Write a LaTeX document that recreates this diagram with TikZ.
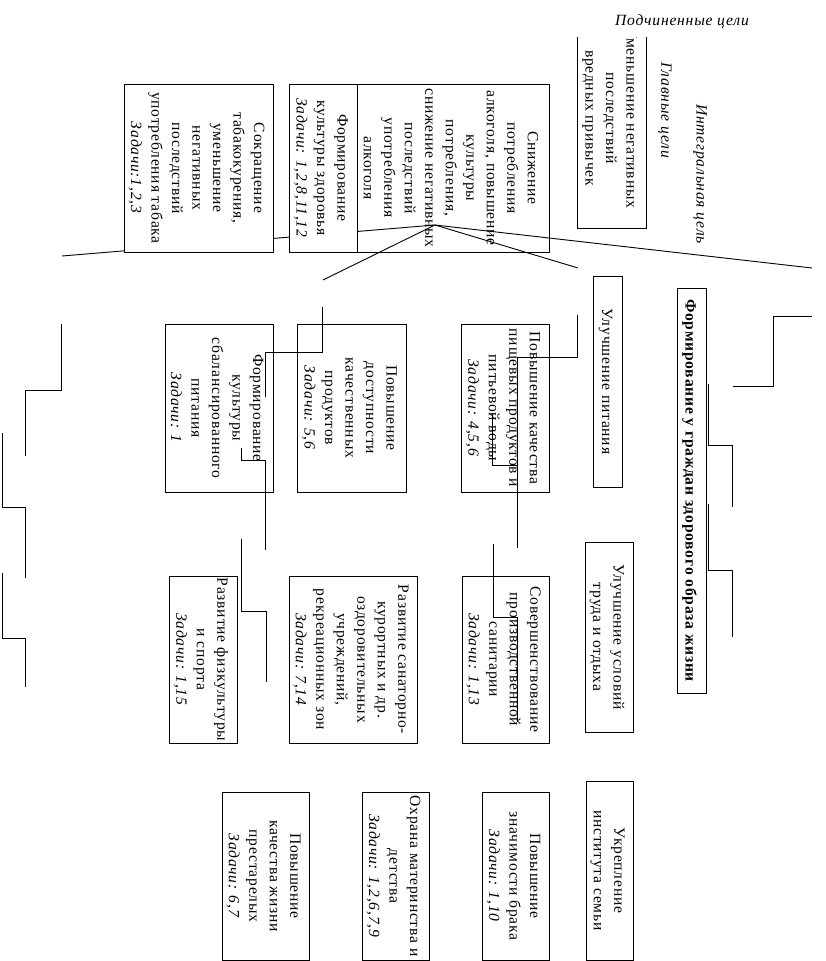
\documentclass[tikz,border=0pt]{standalone}
\usepackage{fontspec}
\setmainfont{Liberation Serif}[LetterSpace=5]
\usetikzlibrary{positioning}

\newcommand{\zd}[1]{\textit{Задачи:#1}}

\tikzset{
  box/.style={draw, line width=0.9pt, inner sep=0pt},
  txt/.style={xshift=-2pt, rotate=-90, align=center, inner sep=0pt,
    font=\fontsize{15.6}{20.5}\selectfont},
  link/.style={line width=0.9pt},
  note/.style={font=\fontsize{15.6}{18}\selectfont\itshape}
}

\begin{document}
\begin{tikzpicture}[x=1pt, y=-1pt]
  \useasboundingbox (0,0) rectangle (826,961);

  % lines from the main goals
  \coordinate (hub) at (435,225);
  \coordinate (tail) at (62,256);
  \coordinate (endr) at (812,268);
  \coordinate (endm) at (578,268);
  \coordinate (endl) at (323,280);
  \draw[link] (tail) -- (hub);
  \draw[link] (hub) -- (endr);
  \draw[link] (hub) -- (endm);
  \draw[link] (hub) -- (endl);

  % top row
  \node[box, fill=white, minimum width=149pt, minimum height=168pt] (tabak) at (198.5,168) {};
  \node[txt] (tabak-t) at (tabak) {Сокращение\\табакокурения,\\уменьшение\\негативных\\последствий\\употребления табака\\\zd{1,2,3}};
  \node[box, fill=white, minimum width=68pt, minimum height=168pt] (kultzd) at (323,168) {};
  \node[txt] (kultzd-t) at (kultzd) {Формирование\\культуры здоровья\\\zd{ 1,2,8,11,12}};
  \node[box, minimum width=192pt, minimum height=168pt] (alko) at (453,168) {};
  \node[txt] (alko-t) at (alko) {Снижение\\потребления\\алкоголя, повышение\\культуры\\потребления,\\снижение негативных\\последствий\\употребления\\алкоголя};
  \begin{scope}
    \clip (560,37) rectangle (660,240);
    \node[box, minimum width=69pt, minimum height=198pt] (vred) at (611.5,129) {};
    \node[txt] (vred-t) at (611.5,118) {Уменьшение негативных\\последствий\\вредных привычек};
  \end{scope}

  % labels
  \node[note] (podch) at (682,22) {Подчиненные цели};
  \node[note, rotate=-90] (glav) at (665,110) {Главные цели};
  \node[note, rotate=-90, fill=white, inner xsep=8pt, inner ysep=7pt] (integ) at (700,174) {Интегральная цель};

  % middle row
  \node[box, minimum width=29pt, minimum height=405pt] (zoj) at (691.5,490.5) {};
  \node[txt] (zoj-t) at (zoj) {\bfseries Формирование у граждан здорового образа жизни};
  \node[box, minimum width=29pt, minimum height=211pt] (pitan) at (607.5,381.5) {};
  \node[txt] (pitan-t) at (pitan) {Улучшение питания};
  \node[box, minimum width=88pt, minimum height=168pt] (kachpit) at (505,408) {};
  \node[txt] (kachpit-t) at (kachpit) {Повышение качества\\пищевых продуктов и\\питьевой воды\\\zd{ 4,5,6}};
  \node[box, minimum width=109pt, minimum height=168pt] (dostup) at (351.5,408) {};
  \node[txt] (dostup-t) at (dostup) {Повышение\\доступности\\качественных\\продуктов\\\zd{ 5,6}};
  \node[box, minimum width=108pt, minimum height=168pt] (sbal) at (219,408) {};
  \node[txt] (sbal-t) at (sbal) {Формирование\\культуры\\сбалансированного\\питания\\\zd{ 1}};

  % third row
  \node[box, minimum width=48pt, minimum height=190pt] (trud) at (609,637) {};
  \node[txt] (trud-t) at (trud) {Улучшение условий\\труда и отдыха};
  \node[box, minimum width=87pt, minimum height=167pt] (sanit) at (505.5,659.5) {};
  \node[txt] (sanit-t) at (sanit) {Совершенствование\\производственной\\санитарии\\\zd{ 1,13}};
  \node[box, minimum width=128pt, minimum height=167pt] (sanat) at (353,659.5) {};
  \node[txt] (sanat-t) at (sanat) {Развитие санаторно-\\курортных и др.\\оздоровительных\\учреждений,\\рекреационных зон\\\zd{ 7,14}};
  \node[box, minimum width=68pt, minimum height=167pt] (fizk) at (203,659.5) {};
  \node[txt] (fizk-t) at (fizk) {Развитие физкультуры\\и спорта\\\zd{ 1,15}};

  % bottom row
  \node[box, minimum width=47pt, minimum height=179pt] (semya) at (609.5,870.5) {};
  \node[txt] (semya-t) at (semya) {Укрепление\\института семьи};
  \node[box, minimum width=67pt, minimum height=168pt] (brak) at (515.5,876) {};
  \node[txt] (brak-t) at (brak) {Повышение\\значимости брака\\\zd{ 1,10}};
  \node[box, minimum width=67pt, minimum height=168pt] (mater) at (395.5,876) {};
  \node[txt] (mater-t) at (mater) {Охрана материнства и\\детства\\\zd{ 1,2,6,7,9}};
  \node[box, minimum width=87pt, minimum height=168pt] (prest) at (265.5,876) {};
  \node[txt] (prest-t) at (prest) {Повышение\\качества жизни\\престарелых\\\zd{ 6,7}};

  % elbow connectors
  \coordinate (pit-a) at (577,315);   \coordinate (pit-b) at (517,548);
  \coordinate (voda-a) at (492,413);  \coordinate (voda-b) at (517,465);
  \coordinate (san-a) at (493,544);   \coordinate (san-b) at (517,722);
  \coordinate (dos-a) at (322,307);   \coordinate (dos-b) at (265,397);
  \coordinate (kul-a) at (241,448);   \coordinate (kul-b) at (265,550);
  \coordinate (fiz-a) at (241,539);   \coordinate (fiz-b) at (266,682);
  \coordinate (zoj-a) at (812,316);   \coordinate (zoj-b) at (733,386);
  \coordinate (tr-a) at (708,384);    \coordinate (tr-b) at (732,507);
  \coordinate (sem-a) at (708,504);   \coordinate (sem-b) at (732,637);
  \coordinate (wa-a) at (61,324);     \coordinate (wa-b) at (25,456);
  \coordinate (wb-a) at (2,433);      \coordinate (wb-b) at (25,578);
  \coordinate (wc-a) at (2,573);      \coordinate (wc-b) at (25,687);
  \draw[link] (pit-a) -- ++(0,42) -| (pit-b);
  \draw[link] (voda-a) |- (voda-b);
  \draw[link] (san-a) -- ++(0,73) -| (san-b);
  \draw[link] (dos-a) -- ++(0,45) -| (dos-b);
  \draw[link] (kul-a) -- ++(0,12) -| (kul-b);
  \draw[link] (fiz-a) -- ++(0,72) -| (fiz-b);
  \draw[link] (zoj-a) -- ++(-39,0) |- (zoj-b);
  \draw[link] (tr-a) -- ++(0,61) -| (tr-b);
  \draw[link] (sem-a) -- ++(0,66) -| (sem-b);
  \draw[link] (wa-a) -- ++(0,66) -| (wa-b);
  \draw[link] (wb-a) -- ++(0,74) -| (wb-b);
  \draw[link] (wc-a) -- ++(0,65) -| (wc-b);
\end{tikzpicture}
\end{document}
